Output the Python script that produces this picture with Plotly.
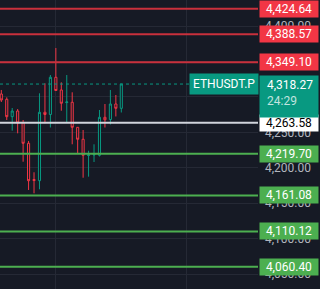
import plotly.graph_objects as go

# ---- data ----
idx = list(range(23))
opens  = [4304.2, 4296.7, 4272.2, 4280.2, 4263.7, 4234.6, 4183.5, 4181.8, 4278.4, 4275.3, 4327.8, 4309.9,
          4292.1, 4292.5, 4257.2, 4240.3, 4217.4, 4218.1, 4217.7, 4271.3, 4268.2, 4290.1, 4284.0]
highs  = [4309.9, 4299.5, 4284.4, 4283.0, 4267.5, 4237.9, 4193.7, 4305.2, 4319.3, 4331.0, 4369.1, 4320.7,
          4331.0, 4306.6, 4257.6, 4253.4, 4224.1, 4233.2, 4281.6, 4290.1, 4309.9, 4302.8, 4318.27]
lows   = [4292.9, 4267.5, 4252.4, 4248.7, 4208.6, 4168.7, 4164.0, 4169.7, 4262.8, 4256.9, 4308.4, 4280.6,
          4263.7, 4233.2, 4220.5, 4186.0, 4187.5, 4208.2, 4216.0, 4256.9, 4261.2, 4272.5, 4278.1]
closes = [4295.7, 4272.2, 4280.2, 4263.3, 4234.6, 4181.8, 4182.1, 4278.4, 4275.3, 4327.8, 4309.1, 4291.1,
          4292.9, 4257.2, 4240.3, 4217.7, 4218.1, 4218.8, 4271.3, 4267.8, 4290.1, 4284.0, 4318.27]

resistance_levels = [4424.64, 4388.57, 4349.10]
pivot_level = [4263.58]
support_levels = [4219.70, 4161.08, 4110.12, 4060.40]
last_price = 4318.27
symbol = "ETHUSDT.P"
countdown = "24:29"
tick_vals = [4050, 4100, 4150, 4200, 4250, 4300, 4350, 4400]
vgrid_idx = [10, 34]

BG = "#161a25"
GRID = "#252935"
UP = "#089981"
DOWN = "#f23645"
RED_LINE = "#c9303c"
GREEN = "#4caf50"
W = 320
PLOT_R = 258 / W
LBL_X = 259 / W
FONT = "Roboto"

fig = go.Figure()
fig.add_trace(go.Candlestick(
    x=idx, open=opens, high=highs, low=lows, close=closes,
    increasing=dict(line=dict(color=UP, width=1), fillcolor=BG),
    decreasing=dict(line=dict(color=DOWN, width=1), fillcolor=BG),
    whiskerwidth=0, showlegend=False, hoverinfo="skip"))

shapes = []
annotations = []

def level(price, line_color, label_bg, text_color):
    shapes.append(dict(type="line", xref="paper", yref="y", x0=0, x1=PLOT_R, y0=price, y1=price,
                       line=dict(color=line_color, width=2), layer="above"))
    annotations.append(dict(xref="paper", yref="y", x=LBL_X, y=price, xanchor="left", yanchor="middle",
                            text=f"{price:,.2f}", showarrow=False, align="center",
                            font=dict(family=FONT, size=12, color=text_color),
                            bgcolor=label_bg, width=54, height=12, borderpad=2))

for p in resistance_levels:
    level(p, RED_LINE, DOWN, "white")
for p in pivot_level:
    level(p, "#d1d4dc", "white", "black")
for p in support_levels:
    level(p, GREEN, GREEN, "white")

# last price dotted line
shapes.append(dict(type="line", xref="paper", yref="y", x0=0, x1=PLOT_R, y0=last_price, y1=last_price,
                   line=dict(color=UP, width=1, dash="dot"), layer="above"))
annotations.append(dict(xref="paper", yref="y", x=LBL_X, y=last_price, xanchor="right", yanchor="middle",
                        text=symbol, showarrow=False, font=dict(family=FONT, size=12, color="white"),
                        bgcolor=UP, borderpad=3))
# last price label box
annotations.append(dict(xref="paper", yref="y", x=LBL_X, y=last_price, xanchor="left", yanchor="top",
                        yshift=9, text=" ", showarrow=False,
                        bgcolor=UP, width=54, height=37, borderpad=2))
annotations.append(dict(xref="paper", yref="y", x=265 / W, y=last_price, xanchor="left", yanchor="top",
                        yshift=8, text=f"{last_price:,.2f}<br><span style='color:rgba(255,255,255,0.75)'>{countdown}</span>",
                        showarrow=False, align="left",
                        font=dict(family=FONT, size=12, color="white")))

fig.update_layout(
    width=W, height=289, margin=dict(l=0, r=0, t=0, b=0),
    paper_bgcolor=BG, plot_bgcolor=BG, boxgap=0.45,
    shapes=shapes, annotations=annotations,
    xaxis=dict(domain=[0, PLOT_R], range=[-0.238, 47.06], rangeslider=dict(visible=False),
               tickvals=vgrid_idx, showticklabels=False, showgrid=True, gridcolor=GRID, gridwidth=1,
               zeroline=False, showline=False, fixedrange=True),
    yaxis=dict(side="right", range=[4028.9, 4436.92], tickvals=tick_vals, tickformat=",.2f",
               showgrid=True, gridcolor=GRID, gridwidth=1, zeroline=False, showline=False,
               tickfont=dict(family=FONT, size=12, color="#b2b5be"), ticklabelstandoff=6),
)

fig.write_html("out.html")
